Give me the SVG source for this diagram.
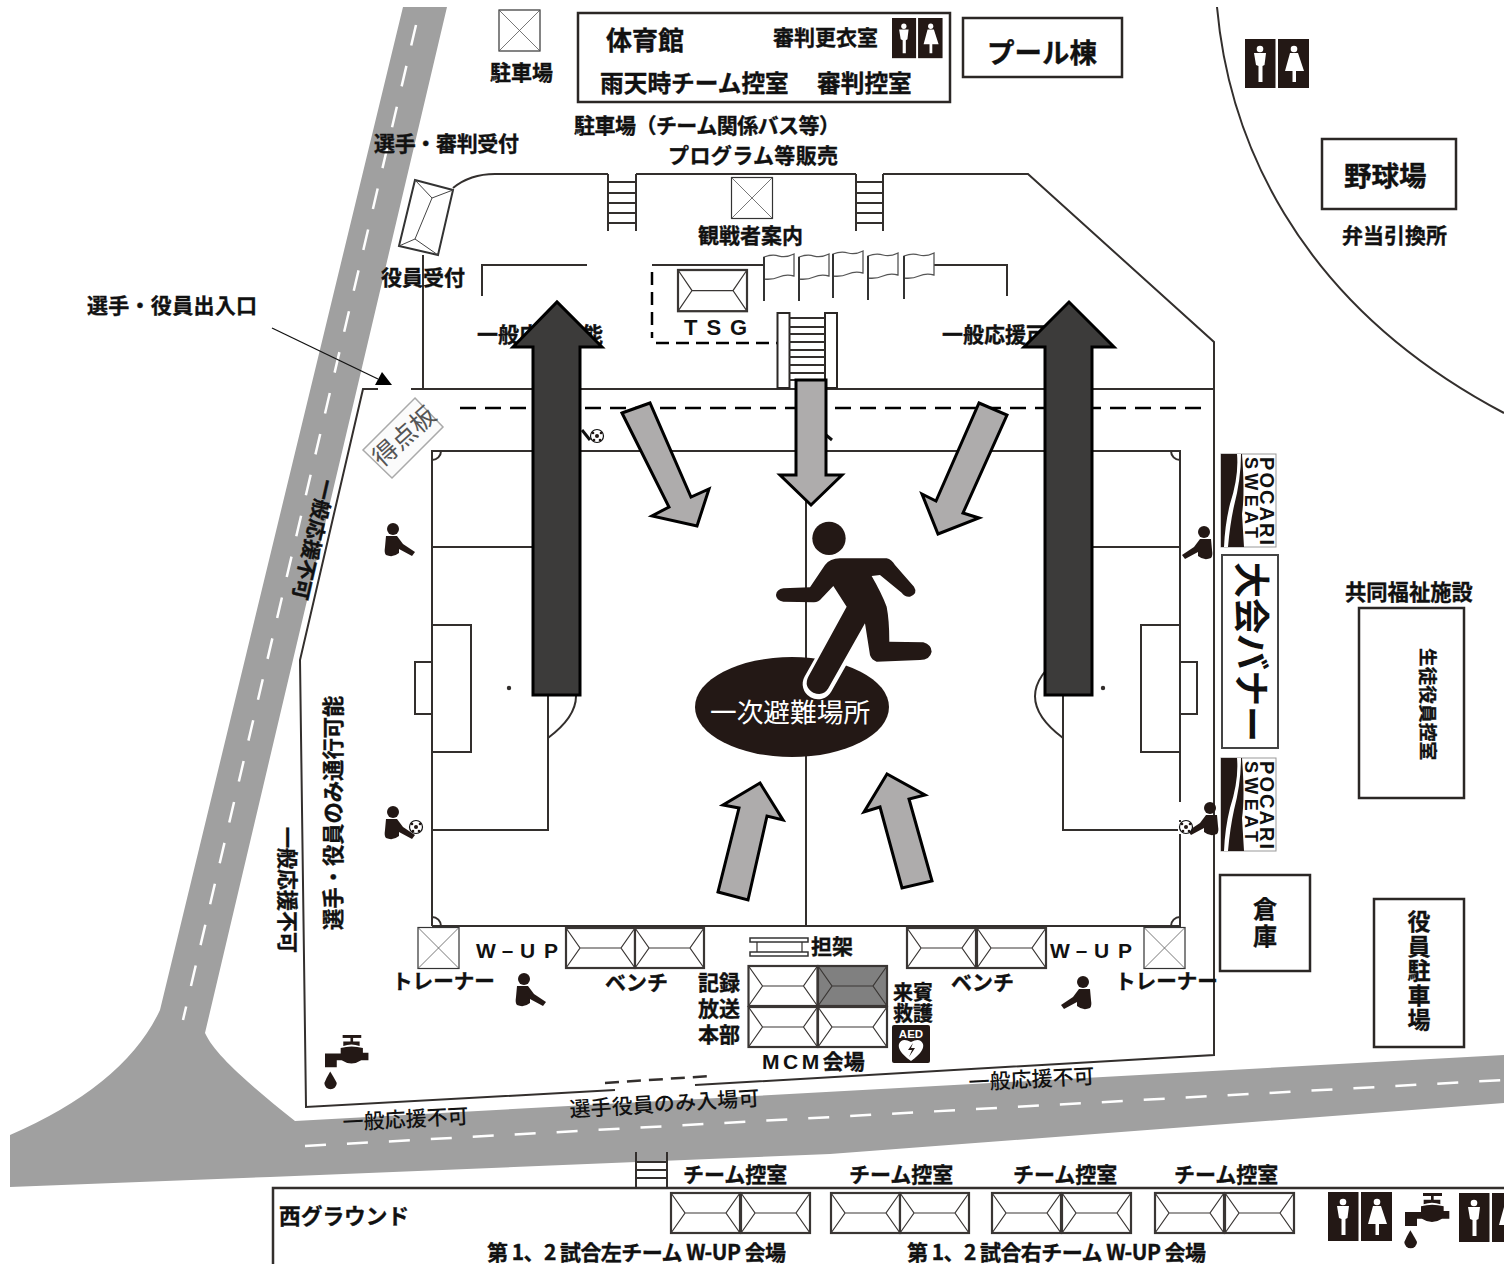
<svg xmlns="http://www.w3.org/2000/svg" width="1504" height="1264" viewBox="0 0 1504 1264">
<style>
.t{font-family:"Noto Sans CJK JP","Liberation Sans",sans-serif;font-weight:700;font-size:21px;fill:#111;stroke:#111;stroke-width:.35px}
.r{font-weight:500;stroke-width:0}
.l{font-family:"Liberation Sans",sans-serif;font-weight:700;font-size:21px;fill:#111}
.ln{fill:none;stroke:#332f2d;stroke-width:2}
.box{fill:#fff;stroke:#2b2725;stroke-width:2.5}
.ga{fill:#aeacac;stroke:#000;stroke-width:3;stroke-linejoin:miter}
.da{fill:#3c3b3a;stroke:#000;stroke-width:3;stroke-linejoin:miter}
.k{fill:#231815}
.w{fill:#fff}
</style>
<defs>
<g id="roof"><rect width="69" height="40" fill="#fff" stroke="#3a3634" stroke-width="2.200"/><path d="M0,0L14,20L0,40M69,0L55,20L69,40M14,20H55" fill="none" stroke="#3a3634" stroke-width="1.200"/></g>
<g id="xbox"><rect width="41" height="41" fill="#fff" stroke="#333" stroke-width="1.200"/><path d="M0,0L41,41M41,0L0,41" stroke="#555" stroke-width=".8"/></g>
<g id="wc"><rect width="30.500" height="49" class="k"/><rect x="33" width="31" height="49" class="k"/>
<circle cx="15" cy="10" r="3.300" class="w"/><path d="M9,14H21L19.500,26L17.500,27V43H13.500V27L11,26Z" class="w"/>
<circle cx="49" cy="10" r="3.300" class="w"/><path d="M45,14H53L59,32H51V43H47.500V32H40Z" class="w"/></g>
<g id="sit"><circle cx="0" cy="0" r="6" class="k"/><path d="M-7,7H4L10,15L22,23L19,27L6,20V24Q0,29 -7,26Q-9,24 -8,18Z" class="k"/></g>
<g id="ball"><circle r="6.500" fill="#fff" stroke="#111" stroke-width="1.200"/><circle r="2" class="k"/><circle cx="-4" cy="-3" r="1.300" class="k"/><circle cx="4" cy="-3" r="1.300" class="k"/><circle cx="-3" cy="4" r="1.300" class="k"/><circle cx="3" cy="4" r="1.300" class="k"/></g>
<g id="tap" transform="scale(.3333)"><path d="M54,0H111V9H54Z" class="k"/><path d="M78,6H86V20H106V34Q81,24 56,34V20H78Z" class="k"/><path d="M0,99V57H48V40Q81,30 116,40V54H133V77H111Q81,97 51,77H36V99Z" class="k"/><path d="M16,112Q31,137 36,147A19,19 0 1 1 -2,147Q4,132 16,112Z" class="k"/></g>
<g id="poc"><rect width="55" height="93" fill="#fff" stroke="#999" stroke-width="1"/><path d="M0,0H21Q24,40 21,60L23,93H0Z" class="k"/><path d="M16,0Q18,22 9,50Q4,70 3,93H7Q9,70 13,52Q20,25 20,0Z" class="w"/><text transform="translate(24,3) rotate(90)" class="l" style="font-size:18px" textLength="81" lengthAdjust="spacing">SWEAT</text><text transform="translate(39,3) rotate(90)" class="l" style="font-size:20px" textLength="88" lengthAdjust="spacing">POCARI</text></g>
</defs>

<g id="road"><path d="M403,7H447L205,1033C215,1055 250,1085 295,1121L1504,1055V1103L830,1154L270,1177L10,1187V1135Q125,1085 160,1010Z" fill="#a0a0a0"/>
<path d="M416,25L183,1020" stroke="#fff" stroke-width="2.500" stroke-dasharray="21 21" fill="none"/>
<path d="M305,1146L1504,1080" stroke="#fff" stroke-width="2.500" stroke-dasharray="21 21" fill="none"/></g>

<g id="site-outline" class="ln">
<path d="M378,389H363L300,660L306,1107L615,1090M695,1085L1214,1055V342L1028,174H883M856,174H636M608,174H495Q470,174 453,188M411,389H1214M423,255V389"/>
<path d="M605,1083L710,1076" stroke-dasharray="14 8" stroke-width="2.500"/>
<path d="M482,296V265H587M652,265H763M934,265H1007V296"/>
<path d="M652,272V338M656,343H778" stroke-dasharray="13 7" stroke-width="2.500" stroke="#000"/>
<path d="M460,408H1207" stroke-dasharray="16 9" stroke-width="2.500" stroke="#000"/>
<path d="M1217,7C1228,130 1290,300 1504,413"/>
</g>

<g id="field" class="ln">
<path d="M432,926V451H1180V926H432M806,451V926"/>
<path d="M432,547H548V830H432M432,625H471V752H432M432,662H415V714H432M548,655Q604,696 548,738"/>
<path d="M1180,547H1063V830H1180M1180,625H1141V752H1180M1180,662H1197V714H1180M1063,655Q1007,696 1063,738"/>
<path d="M432,460A9,9 0 0 0 441,451M1171,451A9,9 0 0 0 1180,460M432,917A9,9 0 0 1 441,926M1180,917A9,9 0 0 0 1171,926"/>
<circle cx="509" cy="688" r="1.200" fill="#111"/><circle cx="1103" cy="688" r="1.200" fill="#111"/>
</g>

<g id="gym"><rect x="578" y="13" width="372" height="89" class="box"/><text x="606" y="50" class="t" style="font-size:26px">体育館</text><text x="773" y="45" class="t">審判更衣室</text><use href="#wc" transform="translate(892,18) scale(.79,.82)"/><text x="600" y="92" class="t" style="font-size:23.700px">雨天時チーム控室</text><text x="817" y="92" class="t" style="font-size:23.700px">審判控室</text></g>
<g id="pool"><rect x="963" y="18" width="159" height="59" class="box"/><text x="987" y="63" class="t" style="font-size:27.500px">プール棟</text></g>
<g id="parking-top"><use href="#xbox" x="499" y="10"/><text x="490" y="80" class="t">駐車場</text></g>
<g id="labels-top">
<text x="574" y="133" class="t" textLength="266" lengthAdjust="spacing">駐車場（チーム関係バス等）</text>
<text x="668" y="163" class="t" textLength="170" lengthAdjust="spacing">プログラム等販売</text>
<text x="374" y="151" class="t" textLength="145" lengthAdjust="spacing">選手・審判受付</text>
<text x="381" y="285" class="t">役員受付</text>
<text x="87" y="313" class="t" textLength="170" lengthAdjust="spacing">選手・役員出入口</text>
<text x="477" y="342" class="t">一般応援可能</text>
<text x="942" y="342" class="t">一般応援可能</text>
</g>
<g id="reception"><path d="M415,180L453,190L438,255L399,246Z" fill="#fff" stroke="#333" stroke-width="2"/><path d="M415,180L432,198L453,190M432,198L415,239L399,246M415,239L438,255" fill="none" stroke="#444" stroke-width="1"/></g>
<g id="stairs-left" class="ln"><path d="M608,174V231M636,174V231M608,182H636M608,193H636M608,203H636M608,213H636M608,223H636"/></g>
<g id="stairs-right" class="ln"><path d="M856,174V231M883,174V231M856,182H883M856,193H883M856,203H883M856,213H883M856,223H883"/></g>
<g id="info"><use href="#xbox" x="731.500" y="177.500"/><text x="698" y="243" class="t">観戦者案内</text></g>
<g id="tsg"><use href="#roof" transform="translate(678,270) scale(1,1.030)"/><text x="684" y="335" class="l" style="font-size:22px;letter-spacing:9px">TSG</text></g>
<g id="flags" fill="#fff" stroke="#555" stroke-width="1.300">
<path d="M764,257q8,-3 15,-1t15,-2V276q-8,-2 -15,1t-15,2Z"/><path d="M799,257q8,-3 15,-1t15,-2V276q-8,-2 -15,1t-15,2Z"/><path d="M833,254q8,-3 15,-1t15,-2V273q-8,-2 -15,1t-15,2Z"/><path d="M868,256q8,-3 15,-1t15,-2V275q-8,-2 -15,1t-15,2Z"/><path d="M904,256q8,-3 15,-1t15,-2V275q-8,-2 -15,1t-15,2Z"/>
<path d="M764,257V301M799,257V301M833,254V298M868,256V300M904,256V299" stroke="#333" stroke-width="2" fill="none"/></g>
<g id="stand"><rect x="777.500" y="313" width="12" height="75" class="box" style="stroke-width:2"/><rect x="825" y="313" width="12" height="75" class="box" style="stroke-width:2"/><path d="M789,318H825M789,327H825M789,334H825M789,342H825M789,350H825M789,357H825M789,365H825M789,373H825M789,380H825" class="ln"/></g>

<g id="scoreboard"><path d="M415,398L443,427L392,478L363,450Z" fill="#fbfbfb" stroke="#aaa" stroke-width="1.500"/><text transform="translate(382,468) rotate(-42)" font-family="'Noto Sans CJK JP',sans-serif" font-size="25" fill="#555">得点板</text></g>

<g id="players">
<use href="#sit" x="393" y="529"/><use href="#sit" x="393" y="812"/><use href="#ball" x="416" y="827"/>
<use href="#sit" x="524" y="979"/><use href="#sit" transform="translate(1083,982) scale(-1,1)"/>
<use href="#sit" transform="translate(1204,532) scale(-1,1)"/>
<rect x="1177" y="802" width="16" height="18" fill="#fff"/><rect x="1178" y="822" width="5" height="12" fill="#fff"/>
<use href="#sit" transform="translate(1210,808) scale(-1,1)"/><use href="#ball" x="1186" y="827"/>
<use href="#ball" x="597" y="436"/><path d="M582,430L590,440" stroke="#111" stroke-width="3"/><path d="M826,435L832,440" stroke="#111" stroke-width="3"/>
</g>

<g id="banners"><use href="#poc" x="1221" y="454"/><use href="#poc" x="1221" y="758"/><g id="banner"><rect x="1222" y="555" width="56" height="193" class="box" style="stroke-width:2;stroke:#444"/><text transform="translate(1238,562) rotate(90)" font-family="'Noto Sans CJK JP',sans-serif" font-weight="700" font-size="36" fill="#111">大会バナー</text></g></g>

<g id="wc-ne"><use href="#wc" x="1245" y="39"/></g>
<g id="baseball"><rect x="1322" y="139" width="134" height="70" class="box"/><text x="1344" y="186" class="t" style="font-size:27.500px">野球場</text><text x="1342" y="243" class="t">弁当引換所</text></g>
<g id="welfare"><text x="1345" y="600" class="t" style="font-size:21.300px">共同福祉施設</text><rect x="1359" y="608" width="105" height="190" class="box"/><text transform="translate(1421,648) rotate(90)" class="t" style="font-size:18.700px">生徒役員控室</text></g>
<g id="store"><rect x="1220" y="875" width="90" height="96" class="box"/><text x="1265" y="918" class="t" text-anchor="middle" style="font-size:24px">倉</text><text x="1265" y="945" class="t" text-anchor="middle" style="font-size:24px">庫</text></g>
<g id="staff-park"><rect x="1374" y="899" width="90" height="148" class="box"/><g class="t" text-anchor="middle" style="font-size:23px"><text x="1419" y="930">役</text><text x="1419" y="954.500">員</text><text x="1419" y="979">駐</text><text x="1419" y="1003.500">車</text><text x="1419" y="1028">場</text></g></g>

<g id="side-labels">
<text transform="translate(320,478) rotate(103)" class="t" style="font-size:20.500px">一般応援不可</text>
<text transform="translate(341,930) rotate(-90)" class="t" style="font-size:21.300px">選手・役員のみ通行可能</text>
<text transform="translate(280,827) rotate(90)" class="t">一般応援不可</text>
<text transform="translate(343,1130) rotate(-3)" class="t r">一般応援不可</text>
<text transform="translate(570,1117) rotate(-3.500)" class="t r" textLength="190" lengthAdjust="spacing">選手役員のみ入場可</text>
<text transform="translate(969,1090) rotate(-3)" class="t r">一般応援不可</text>
</g>

<g id="wup-left"><use href="#xbox" x="418" y="927.500"/><text x="476" y="958" class="l" textLength="82" lengthAdjust="spacing">W－U P</text><text x="392" y="989" class="t" style="font-size:20.600px">トレーナー</text><use href="#roof" x="566" y="928"/><use href="#roof" x="635" y="928"/><text x="605" y="990" class="t">ベンチ</text></g>
<g id="wup-right"><use href="#xbox" x="1144" y="927.500"/><text x="1050" y="958" class="l" textLength="82" lengthAdjust="spacing">W－U P</text><text x="1115" y="989" class="t" style="font-size:20.600px">トレーナー</text><use href="#roof" x="907" y="928"/><use href="#roof" x="977" y="928"/><text x="951" y="990" class="t">ベンチ</text></g>
<g id="hq"><g fill="#fff" stroke="#333" stroke-width="1.500"><rect x="750" y="938" width="58" height="4"/><rect x="750" y="952" width="58" height="4"/></g><path d="M757,942V952M802,942V952" class="ln" style="stroke-width:1.200"/><text x="811" y="954" class="t">担架</text>
<use href="#roof" x="748.500" y="966"/><rect x="818" y="966" width="69" height="40" fill="#808080" stroke="#3a3634" stroke-width="2.200"/><path d="M818,966L832,986L818,1006M887,966L873,986L887,1006M832,986H873" fill="none" stroke="#3a3634" stroke-width="1.200"/>
<use href="#roof" x="748.500" y="1007"/><use href="#roof" x="818" y="1007"/>
<text x="698" y="990" class="t">記録</text><text x="698" y="1016" class="t">放送</text><text x="698" y="1042" class="t">本部</text>
<text x="893" y="1000" class="t" style="font-size:20px">来賓</text><text x="893" y="1021" class="t" style="font-size:20px">救護</text>
<text x="762" y="1069" class="l" style="letter-spacing:3.500px">MCM<tspan class="t" style="letter-spacing:0">会場</tspan></text>
<g id="aed"><rect x="892" y="1025" width="38" height="38" rx="2" class="k"/><text x="911" y="1038" text-anchor="middle" font-family="'Liberation Sans',sans-serif" font-weight="700" font-size="11.500" fill="#fff">AED</text><path d="M911,1061C900,1053 898,1048 899,1044Q902,1037 911,1042Q920,1037 923,1044C924,1048 922,1053 911,1061Z" fill="#fff"/><path d="M913,1043L908,1050H912L909,1057L915,1048H911Z" class="k"/></g></g>
<g id="tap-sw"><use href="#tap" transform="translate(325,1035) scale(.98)"/></g>

<g id="west-ground"><path d="M273,1264V1188H1504" class="ln" style="stroke-width:2.500"/><path d="M636,1152V1188M667,1152V1188M636,1162H667M636,1170H667M636,1178H667" class="ln"/>
<text x="279" y="1224" class="t" style="font-size:21.700px">西グラウンド</text>
<text x="683" y="1182" class="t">チーム控室</text><text x="849" y="1182" class="t">チーム控室</text><text x="1013" y="1182" class="t">チーム控室</text><text x="1174" y="1182" class="t">チーム控室</text>
<use href="#roof" x="671" y="1193"/><use href="#roof" x="741" y="1193"/><use href="#roof" x="831" y="1193"/><use href="#roof" x="900" y="1193"/><use href="#roof" x="992" y="1193"/><use href="#roof" x="1062" y="1193"/><use href="#roof" x="1155" y="1193"/><use href="#roof" x="1225" y="1193"/>
<text x="487" y="1260" class="t" textLength="299" lengthAdjust="spacing">第 1、2 試合左チーム W-UP 会場</text><text x="907" y="1260" class="t" textLength="299" lengthAdjust="spacing">第 1、2 試合右チーム W-UP 会場</text>
<use href="#wc" x="1328" y="1192"/><use href="#tap" transform="translate(1405,1193)"/><use href="#wc" x="1459" y="1193"/></g>

<g id="muster"><ellipse cx="792" cy="707" rx="97" ry="50" class="k"/><text x="710" y="722" font-family="'Noto Sans CJK JP',sans-serif" font-size="26.700" fill="#fff">一次避難場所</text>
<g id="runner" transform="translate(690,500) scale(.3333)"><path d="M384,552L470,400" stroke="#fff" stroke-width="92" stroke-linecap="round" fill="none"/><circle cx="417" cy="115" r="50" class="k"/><path d="M405,195Q420,175 450,175L590,175Q605,178 615,195L672,260Q685,280 660,290Q645,292 635,278L570,225L545,228Q575,280 590,320Q598,360 598,425L700,427Q725,435 725,455Q720,480 690,480L560,485Q545,480 540,465L525,370L415,565Q400,590 370,578Q340,560 355,530L470,320L430,258L395,295Q385,308 370,307L280,305Q258,300 258,285Q260,268 280,265L360,262Z" class="k"/></g></g>

<g id="connectors">
<path d="M272,328L378,379" stroke="#111" stroke-width="1.300" fill="none"/><path d="M382,372L392,385H375Z" fill="#000"/>
<path d="M533,695V347H513L557,302L602,347H580V695Z" class="da"/>
<path d="M1045,695V347H1024L1069,302L1114,347H1092V695Z" class="da"/>
<path d="M622,413L650,403L691,497L709,489L697,526L652,516L669,507Z" class="ga"/>
<path d="M796,380H826V475H842L811,505L780,475H796Z" class="ga"/>
<path d="M979,403L1007,415L963,513L979,518L938,534L922,494L936,501Z" class="ga"/>
<path d="M718,892L748,900L767,816L783,820L760,783L723,805L739,808Z" class="ga"/>
<path d="M864,812L887,774L925,795L909,799L932,881L902,888L880,807Z" class="ga"/>
</g>
</svg>
